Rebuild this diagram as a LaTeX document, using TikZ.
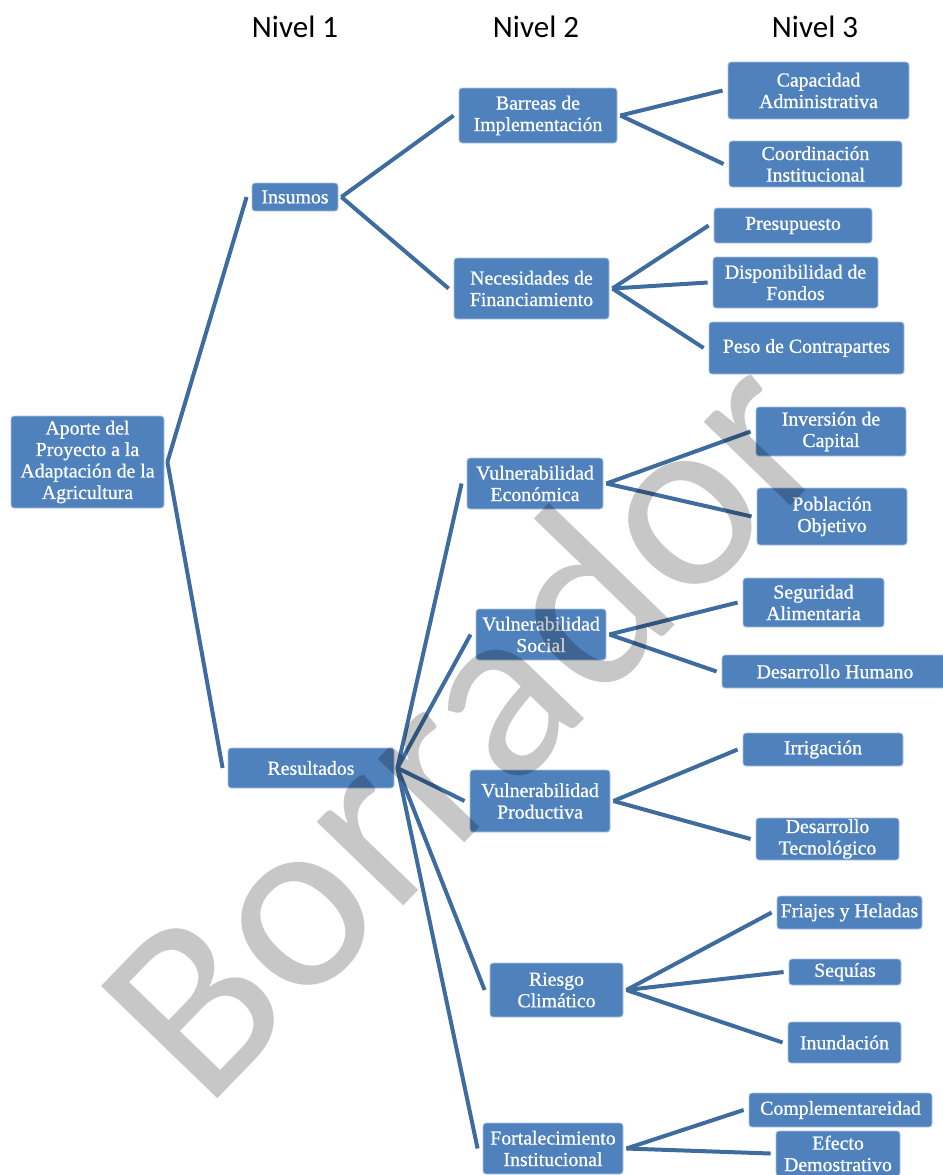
\documentclass[tikz,border=0pt]{standalone}
\usepackage{fontspec}
\setmainfont{Liberation Serif}
\newfontfamily\cajafont{Liberation Serif}[FakeBold=0.8]
\newfontfamily\nivelfont{Carlito}
\usepackage{tikz}

\definecolor{cajaazul}{RGB}{79,129,189}
\definecolor{bordeazul}{RGB}{170,195,224}
\definecolor{lineaazul}{RGB}{62,108,158}

\begin{document}
\begin{tikzpicture}[x=0.5pt, y=-0.5pt,
    caja/.style={draw=bordeazul, line width=0.4pt, fill=cajaazul, rounded corners=1.5pt,
      text=white, align=center, inner sep=0pt, font=\cajafont\fontsize{9.9}{10.75}\selectfont},
    conector/.style={draw=lineaazul, line width=2pt},
    nivel/.style={font=\nivelfont\fontsize{15.5}{18}\selectfont, anchor=base},
    marca/.style={font=\nivelfont\fontsize{126}{126}\selectfont, text=black, opacity=0.22,
      rotate=46, anchor=base west, inner sep=0pt}]
    \useasboundingbox (0,0) rectangle (943,1175);
    \clip (0,0) rectangle (943,1175);

    % column titles
    \node[nivel] (nivel1) at (295,37) {Nivel 1};
    \node[nivel] (nivel2) at (536,37) {Nivel 2};
    \node[nivel] (nivel3) at (815,37) {Nivel 3};

    % boxes: name / centre / width / height / text
    \foreach \nm/\cx/\cy/\w/\h/\txt in {
        raiz/87.5/462/153/92/{Aporte del\\Proyecto a la\\Adaptación de la\\Agricultura},
        insumos/295/197/86/28/{Insumos},
        resultados/311/768/166/40/{Resultados},
        barreras/538/115.5/158/55/{Barreas de\\Implementación},
        necesidades/531.5/288.5/155/61/{Necesidades de\\Financiamiento},
        economica/535/483.5/136/51/{Vulnerabilidad\\Económica},
        social/541/634.5/130/51/{Vulnerabilidad\\Social},
        productiva/540/801/140/62/{Vulnerabilidad\\Productiva},
        riesgo/556.5/990/133/54/{Riesgo\\Climático},
        fortalecimiento/553/1148.5/140/51/{Fortalecimiento\\Institucional},
        capacidad/818.5/90.5/181/57/{Capacidad\\Administrativa},
        coordinacion/815.5/164/173/46/{Coordinación\\Institucional},
        presupuesto/793/225.5/158/35/{Presupuesto},
        disponibilidad/795.5/282.5/165/51/{Disponibilidad de\\Fondos},
        peso/806.5/348/195/52/{Peso de Contrapartes},
        inversion/831/431.5/150/49/{Inversión de\\Capital},
        poblacion/832/516.5/150/57/{Población\\Objetivo},
        seguridad/813.5/602.5/141/49/{Seguridad\\Alimentaria},
        humano/835/671.5/226/33/{Desarrollo Humano},
        irrigacion/823/749.5/160/33/{Irrigación},
        tecnologico/827.5/839/143/42/{Desarrollo\\Tecnológico},
        friajes/849.5/912.5/145/33/{Friajes y Heladas},
        sequias/845/972/112/26/{Sequías},
        inundacion/844.5/1042.5/113/41/{Inundación},
        complementareidad/840.5/1110/183/34/{Complementareidad},
        efecto/838/1153.5/124/45/{Efecto\\Demostrativo}} {
        \node[caja, minimum width=\w*0.5pt, minimum height=\h*0.5pt] (\nm) at (\cx,\cy) {\txt};
    }

    % branches
    \foreach \a/\b in {raiz/insumos, raiz/resultados,
        insumos/barreras, insumos/necesidades,
        resultados/economica, resultados/social, resultados/productiva,
        resultados/riesgo, resultados/fortalecimiento,
        barreras/capacidad, barreras/coordinacion,
        necesidades/presupuesto, necesidades/disponibilidad, necesidades/peso,
        economica/inversion, economica/poblacion,
        social/seguridad, social/humano,
        productiva/irrigacion, productiva/tecnologico,
        riesgo/friajes, riesgo/sequias, riesgo/inundacion,
        fortalecimiento/complementareidad, fortalecimiento/efecto} {
        \draw[conector] ([xshift=1.5pt]\a.east) -- ([xshift=-2.5pt]\b.west);
    }

    % watermark
    \node[marca] (borrador) at (205,1112) {Borrador};
\end{tikzpicture}
\end{document}
